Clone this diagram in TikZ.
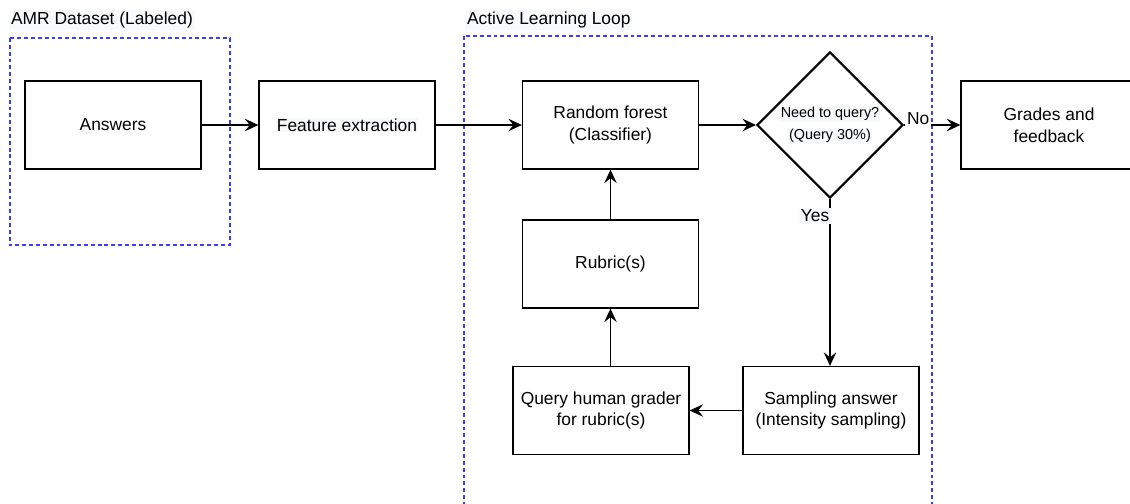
\documentclass[tikz,border=0pt]{standalone}
\usepackage{fontspec}
\setmainfont{Liberation Sans}
\usepackage{tikz}
\usetikzlibrary{arrows.meta, shapes.geometric, positioning, calc}
\definecolor{LoopBlue}{RGB}{60,60,255}
\definecolor{LabelBg}{RGB}{248,249,250}
\setlength{\fboxsep}{0.5pt}

\begin{document}
\begin{tikzpicture}[x=0.02cm, y=-0.02cm, font=\fontsize{9.9}{12.5}\selectfont,
	caja/.style={rectangle, draw=black, line width=0.75pt, fill=white, align=center, minimum width=3.52cm, minimum height=1.76cm, inner sep=2pt},
	decision/.style={diamond, draw=black, line width=1.2pt, fill=white, align=center, aspect=1, minimum size=2.92cm, inner sep=0pt, font=\fontsize{8.2}{12.5}\selectfont},
	grupo/.style={draw=LoopBlue, line width=0.6pt, dash pattern=on 2.2pt off 1.7pt},
	titulo/.style={anchor=west, fill=LabelBg, inner sep=1pt},
	flecha/.style={-{Stealth[length=2.7mm, width=2.5mm, inset=1mm]}, line width=0.75pt},
	etiqueta/.style={fill=LabelBg, inner sep=1pt}]
	\useasboundingbox (0,0) rectangle (1130,504);
	% grupos
	\draw[grupo] (10,38) rectangle (230,245);
	\draw[grupo] (464,36) rectangle (932,520);
	\node[titulo] (tdataset) at (9,20) {AMR Dataset (Labeled)};
	\node[titulo] (tloop) at (465,20) {Active Learning Loop};
	% cajas
	\node[caja] (answers) at (113,125) {Answers};
	\node[caja] (feat) at (347,125) {\colorbox{LabelBg}{Feature extraction}};
	\node[caja] (rf) at (610.5,125) {Random forest\\(Classifier)};
	\node[decision] (dec) at (830,125) {\colorbox{LabelBg}{Need to query?}\\\colorbox{LabelBg}{(Query 30\%)}};
	\node[caja] (grades) at (1049,125) {Grades and\\feedback};
	\node[caja] (rubric) at (610.5,264) {Rubric(s)};
	\node[caja] (query) at (601,410.5) {Query human grader\\for rubric(s)};
	\node[caja] (samp) at (831,410.5) {Sampling answer\\(Intensity sampling)};
	% conexiones
	\draw[flecha] (answers) -- (feat);
	\draw[flecha] (feat) -- (rf);
	\draw[flecha] (rf) -- (dec);
	\draw[flecha] (dec) -- (grades) node[pos=0.25, above=-1pt, etiqueta, fill=white] {No};
	\draw[flecha] (dec.south) -- (samp.north -| dec.south) node[pos=0.1, left=-1pt, etiqueta] {Yes};
	\draw[flecha] (samp) -- (query);
	\draw[flecha] (query.north -| rubric.south) -- (rubric.south);
	\draw[flecha] (rubric) -- (rf);
\end{tikzpicture}
\end{document}
